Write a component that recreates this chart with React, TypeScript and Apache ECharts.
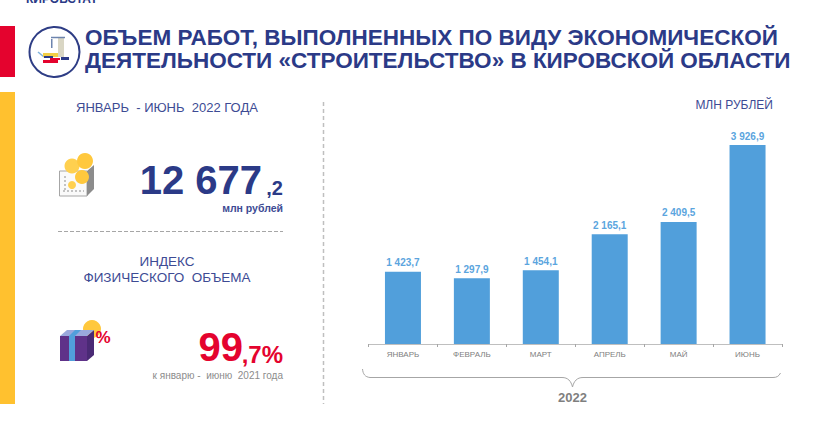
import React, { useEffect, useRef } from "react";
import * as echarts from "echarts";

const months = ["ЯНВАРЬ", "ФЕВРАЛЬ", "МАРТ", "АПРЕЛЬ", "МАЙ", "ИЮНЬ"];
const values = [1423.7, 1297.9, 1454.1, 2165.1, 2409.5, 3926.9];
const NAVY = "#2B3A87";
const SOFT = "#3D4B94";
const RED = "#E4032E";
const BLUE = "#519FDB";
const GOLD = "#FFC12F";
const SANS = "'Liberation Sans', Arial, sans-serif";

const fmt = (v: number) => {
  const [i, d] = v.toFixed(1).split(".");
  return i.replace(/\B(?=(\d{3})+$)/g, " ") + "," + d;
};

const text = (s: string, x: number, y: number, font: string, fill: string, align = "left") => ({
  type: "text",
  silent: true,
  style: { text: s, x, y, font: `${font} ${SANS}`, fill, textAlign: align, textVerticalAlign: "middle" },
});
const rect = (x: number, y: number, width: number, height: number, fill: string) => ({
  type: "rect", silent: true, shape: { x, y, width, height }, style: { fill },
});
const circle = (cx: number, cy: number, r: number, fill: string, stroke?: string, lineWidth = 1) => ({
  type: "circle", silent: true, shape: { cx, cy, r }, style: { fill, stroke, lineWidth },
});
const line = (x1: number, y1: number, x2: number, y2: number, stroke: string, lineWidth = 1, lineDash?: number[]) => ({
  type: "line", silent: true, shape: { x1, y1, x2, y2 }, style: { stroke, lineWidth, lineDash },
});
const poly = (points: number[][], fill: string, stroke?: string) => ({
  type: "polygon", silent: true, shape: { points }, style: { fill, stroke },
});

echarts.graphic.registerShape(
  "brace2022",
  echarts.graphic.extendPath(
    "M362.5 369 C363 374 365 377 370 377.5 L562 377.5 C568 377.5 571 381 572.5 387 C574 381 577 377.5 583 377.5 L773 377.5 C777 377.5 779 376 780.5 373",
    {}
  )
);

export default function App() {
  const ref = useRef<HTMLDivElement>(null);
  useEffect(() => {
    document.body.style.margin = "0";
    const chart = echarts.init(ref.current!, undefined, { renderer: "svg" });
    chart.setOption({
      animation: false,
      backgroundColor: "#ffffff",
      grid: { left: 368.5, top: 141.3, width: 413.5, height: 202.7 },
      xAxis: {
        type: "category",
        data: months,
        axisLine: { lineStyle: { color: "#BFBFBF", width: 1 } },
        axisTick: { show: true, alignWithLabel: false, length: 3, inside: false, lineStyle: { color: "#A6A6A6" } },
        axisLabel: { color: "#808080", fontSize: 8, fontFamily: SANS, margin: 6 },
      },
      yAxis: { type: "value", min: 0, max: 4000, show: false, splitLine: { show: false } },
      series: [
        {
          type: "bar",
          data: values,
          barWidth: 36,
          itemStyle: { color: BLUE },
          label: {
            show: true,
            position: "top",
            distance: 4,
            color: "#5BA5DE",
            fontSize: 10,
            fontWeight: "bold",
            fontFamily: SANS,
            formatter: (p: any) => fmt(p.value),
          },
        },
      ],
      graphic: {
        elements: [
          text("КИРОВСТАТ", 26, -1, "bold 12px", NAVY),
          rect(0, 26, 15, 51, RED),
          rect(0, 92, 15, 312, GOLD),
          // logo
          circle(54.5, 52, 25, "#fff", "#2E3D85", 2),
          rect(58, 37, 6, 20, "#D9D6C4"),
          rect(51, 39, 1.5, 9, "#6D84AE"),
          line(51, 37.5, 65, 37.5, "#6D84AE", 1.5),
          rect(61, 57, 8, 3, "#2B3A87"),
          line(38, 52, 44, 57, "#7FB2DC", 1.5),
          rect(43, 53, 15, 4, "#F2CE45"),
          rect(44, 56, 9, 2, "#2B3A87"),
          poly([[50, 58], [60, 58], [60, 60], [58, 60], [58, 63], [43, 63], [43, 60], [50, 60]], RED),
          // coin box
          poly([[59.5, 171], [87, 171], [87, 196], [59.5, 196]], "#FAFAFA", "#A6A6A6"),
          poly([[87, 171], [94, 165], [94, 189], [87, 196]], "#8C8C8C"),
          circle(72, 166, 7.5, "#FFD04F"),
          circle(85, 161, 8, "#FFC83D"),
          circle(82, 177, 7, "#FFC83D"),
          circle(72, 185, 4, "#FFD04F"),
          line(63, 191, 84, 191, "#8C8C8C", 1, [2, 2]),
          line(65, 176, 65, 190, "#8C8C8C", 1, [2, 2]),
          // totals
          text("ЯНВАРЬ  - ИЮНЬ  2022 ГОДА", 167, 107, "13px", SOFT, "center"),
          text("12 677", 262, 180, "bold 40px", NAVY, "right"),
          text(",2", 283, 187.5, "bold 20px", NAVY, "right"),
          text("млн рублей", 283, 208, "bold 10.5px", SOFT, "right"),
          line(58, 231.5, 283, 231.5, "#A6A6A6", 1, [4, 2]),
          text("ИНДЕКС", 167, 261, "13.5px", SOFT, "center"),
          text("ФИЗИЧЕСКОГО  ОБЪЕМА", 167, 277, "13.5px", SOFT, "center"),
          // gift
          circle(92, 329, 9, "#FFC83D"),
          poly([[87, 336], [94, 330], [94, 355], [87, 361]], "#4A2A75"),
          poly([[60, 336], [67, 330], [94, 330], [87, 336]], "#9AA8DC"),
          rect(60, 336, 27, 25, "#5F3289"),
          poly([[69, 336], [75, 336], [81, 330], [75, 330]], BLUE),
          rect(69, 336, 6, 25, BLUE),
          text("%", 103, 337, "bold 17px", RED, "center"),
          // index
          text("99", 243, 347, "bold 40px", RED, "right"),
          text(",7%", 283, 354, "bold 24px", RED, "right"),
          text("к январю -  июню  2021 года", 283, 375, "10px", "#8C8C8C", "right"),
          line(323.5, 102, 323.5, 404, "#BFBFBF", 1.5, [4, 3]),
          // heading
          text("ОБЪЕМ РАБОТ, ВЫПОЛНЕННЫХ ПО ВИДУ ЭКОНОМИЧЕСКОЙ", 85, 37.5, "bold 22.5px", NAVY),
          text("ДЕЯТЕЛЬНОСТИ «СТРОИТЕЛЬСТВО» В КИРОВСКОЙ ОБЛАСТИ", 85, 60.5, "bold 22.5px", NAVY),
          text("МЛН РУБЛЕЙ", 773, 105, "12px", SOFT, "right"),
          { type: "brace2022", silent: true, x: 0, y: 0, style: { fill: "none", stroke: "#A6A6A6", lineWidth: 1 } },
          text("2022", 572.5, 397, "bold 13px", "#7F7F7F", "center"),
        ],
      },
    });
    return () => chart.dispose();
  }, []);
  return <div ref={ref} style={{ width: 832, height: 432 }} />;
}
